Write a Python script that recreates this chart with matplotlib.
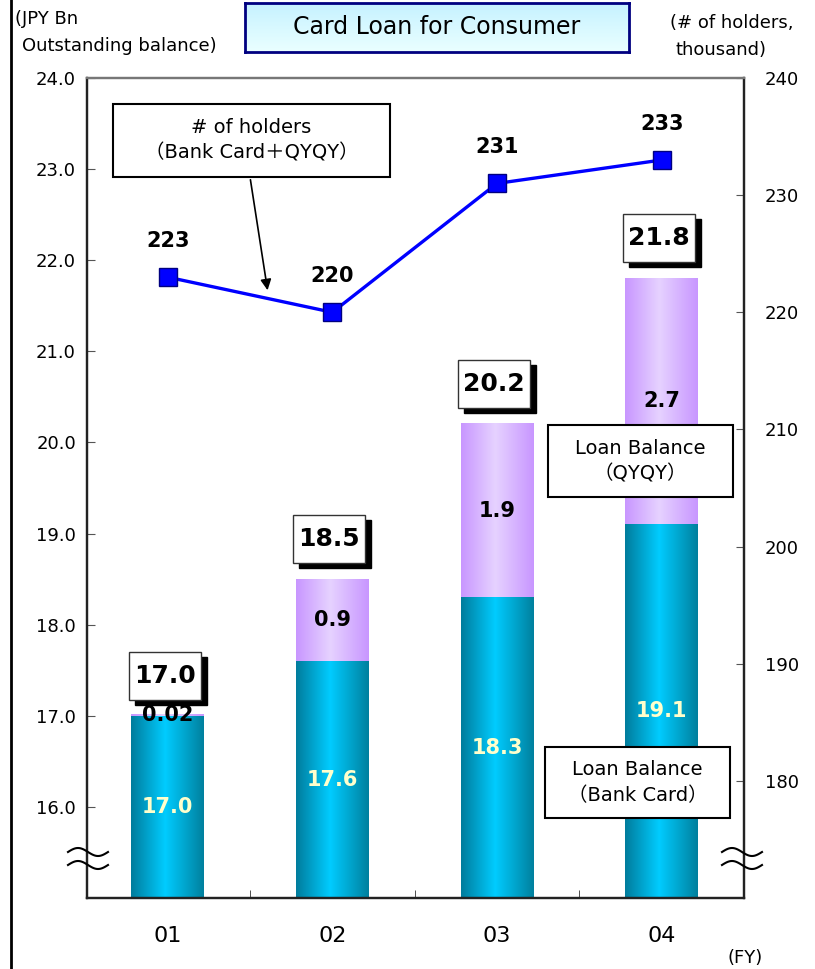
"""
Card loan for consumer: stacked balance bars with holders line
"""

import numpy as np
import matplotlib
matplotlib.use("Agg")
import matplotlib.pyplot as plt
import matplotlib.patches as mpatches
from matplotlib.colors import LinearSegmentedColormap
from matplotlib.transforms import IdentityTransform
from matplotlib.lines import Line2D

# data
years = ["01", "02", "03", "04"]
bank_card = [17.0, 17.6, 18.3, 19.1]
qyqy = [0.02, 0.9, 1.9, 2.7]
qyqy_labels = ["0.02", "0.9", "1.9", "2.7"]
totals = [17.0, 18.5, 20.2, 21.8]
holders = [223, 220, 231, 233]

W, H = 815, 969
FONT = ["DejaVu Sans", "Noto Sans CJK JP"]
plt.rcParams["font.family"] = FONT

fig = plt.figure(figsize=(W / 100, H / 100), dpi=100)
ax = fig.add_axes([87 / W, 1 - 898 / H, (744 - 87) / W, (898 - 78) / H])
ax2 = ax.twinx()

base = 15.0
ax.set_xlim(-0.49, 3.5)
ax.set_ylim(base, 24.0)
ax2.set_ylim(170, 240)
bar_w = 0.443

bank_cmap = LinearSegmentedColormap.from_list(
    "bank", [(0, "#007c9c"), (0.47, "#00ccff"), (1, "#00809e")])
qyqy_cmap = LinearSegmentedColormap.from_list(
    "qyqy", [(0, "#c896ff"), (0.47, "#e6d2ff"), (1, "#c896ff")])
grad = np.linspace(0, 1, 256).reshape(1, -1)

for i in range(len(years)):
    ax.imshow(grad, cmap=bank_cmap, aspect="auto", interpolation="bilinear",
              extent=[i - bar_w / 2, i + bar_w / 2, base, bank_card[i]], zorder=2)
    ax.imshow(grad, cmap=qyqy_cmap, aspect="auto", interpolation="bilinear",
              extent=[i - bar_w / 2, i + bar_w / 2, bank_card[i],
                      bank_card[i] + qyqy[i]], zorder=2)
    ax.text(i, (base + bank_card[i]) / 2, f"{bank_card[i]:.1f}", color="#ffffcc",
            fontsize=15, fontweight="bold", ha="center", va="center", zorder=3)
    ax.text(i, bank_card[i] + qyqy[i] / 2, qyqy_labels[i], color="black",
            fontsize=15, fontweight="bold", ha="center", va="center", zorder=3)

ax.set_xlim(-0.49, 3.5)
ax.set_ylim(base, 24.0)
ax.set_yticks(np.arange(16, 24.1, 1.0))
ax.set_yticklabels([f"{v:.1f}" for v in np.arange(16, 24.1, 1.0)])
ax.set_xticks(range(len(years)))
ax.set_xticklabels(years)
ax.set_xticks([0.5, 1.5, 2.5], minor=True)
ax.tick_params(axis="x", which="major", length=0, labelsize=16, pad=20)
ax.tick_params(axis="x", which="minor", direction="in", length=6, color="#333333")
ax.tick_params(axis="y", direction="in", length=6, labelsize=13, pad=8,
               color="#555555")
ax2.set_yticks(np.arange(180, 241, 10))
ax2.tick_params(axis="y", direction="in", length=6, labelsize=13, pad=15,
                color="#555555")

for a in (ax, ax2):
    a.spines["top"].set_color("#777777")
    a.spines["left"].set_color("#222222")
    a.spines["right"].set_color("#222222")
    a.spines["bottom"].set_color("#222222")
    for s in a.spines.values():
        s.set_linewidth(1.6)

# holders line
ax2.plot(range(len(years)), holders, color="#0000ff", lw=2.4, marker="s",
         markersize=13.5, markerfacecolor="#0000ff", markeredgecolor="#000080",
         markeredgewidth=1.0, zorder=5)
for i, v in enumerate(holders):
    ax2.annotate(f"{v}", (i, v), xytext=(0, 36), textcoords="offset pixels",
                 ha="center", va="center", fontsize=15, fontweight="bold")

# total boxes with shadow
fig.canvas.draw()
for i, t in enumerate(totals):
    cx, cy = ax.transData.transform((i, t))
    bx, by, bw, bh = cx - 3 - 36, cy + 40 - 24, 72, 48
    fig.add_artist(mpatches.Rectangle((bx + 6, by - 5), bw, bh, facecolor="black",
                                      edgecolor="black", transform=IdentityTransform()))
    fig.add_artist(mpatches.Rectangle((bx, by), bw, bh, facecolor="white",
                                      edgecolor="#333333", lw=1.0,
                                      transform=IdentityTransform()))
    fig.text((bx + bw / 2) / W, (by + bh / 2) / H, f"{t:.1f}", ha="center",
             va="center", fontsize=18, fontweight="bold")


def label_box(x0, y0, x1, y1, lines):
    fig.add_artist(mpatches.Rectangle((x0, H - y1), x1 - x0, y1 - y0,
                                      facecolor="white", edgecolor="black", lw=1.5,
                                      transform=IdentityTransform()))
    fig.text((x0 + x1) / 2 / W, 1 - (y0 + y1) / 2 / H, lines, ha="center",
             va="center", fontsize=14, linespacing=1.45, family=FONT)


label_box(113, 104, 390, 177, "# of holders\n（Bank Card＋QYQY）")
label_box(548, 425, 733, 497, "Loan Balance\n（QYQY）")
label_box(545, 747, 730, 818, "Loan Balance\n（Bank Card）")

fig.add_artist(mpatches.FancyArrowPatch(
    (250, H - 177), (268, H - 293), arrowstyle="-|>", mutation_scale=16,
    color="black", lw=1.2, transform=IdentityTransform()))

# title box
tax = fig.add_axes([245 / W, 1 - 52 / H, 384 / W, 49 / H])
tax.imshow(np.linspace(0, 1, 64).reshape(-1, 1), aspect="auto",
           cmap=LinearSegmentedColormap.from_list("t", ["#c6f2ff", "#eaffff"]),
           extent=[0, 1, 0, 1])
tax.set_xticks([])
tax.set_yticks([])
for s in tax.spines.values():
    s.set_color("#000080")
    s.set_linewidth(2)
tax.text(0.5, 0.5, "Card Loan for Consumer", ha="center", va="center",
         fontsize=17, transform=tax.transAxes)

# axis captions
fig.text(15 / W, 1 - 19 / H, "(JPY Bn", fontsize=13, va="center")
fig.text(22 / W, 1 - 46 / H, "Outstanding balance)", fontsize=13, va="center")
fig.text(670 / W, 1 - 23 / H, "(# of holders,", fontsize=13, va="center")
fig.text(676 / W, 1 - 50 / H, "thousand)", fontsize=13, va="center")
fig.text(745 / W, 1 - 958 / H, "(FY)", fontsize=13, ha="center", va="center")

# axis break marks
t = np.linspace(0, 1, 60)
for x0 in (68, 722):
    for yc in (852, 865):
        fig.add_artist(Line2D(x0 + 40 * t, H - yc + 4 * np.sin(2 * np.pi * t),
                              color="black", lw=1.5, transform=IdentityTransform()))

# left border line
fig.add_artist(Line2D([11, 11], [0, H], color="black", lw=2,
                      transform=IdentityTransform()))

fig.savefig("out.png", dpi=100)
